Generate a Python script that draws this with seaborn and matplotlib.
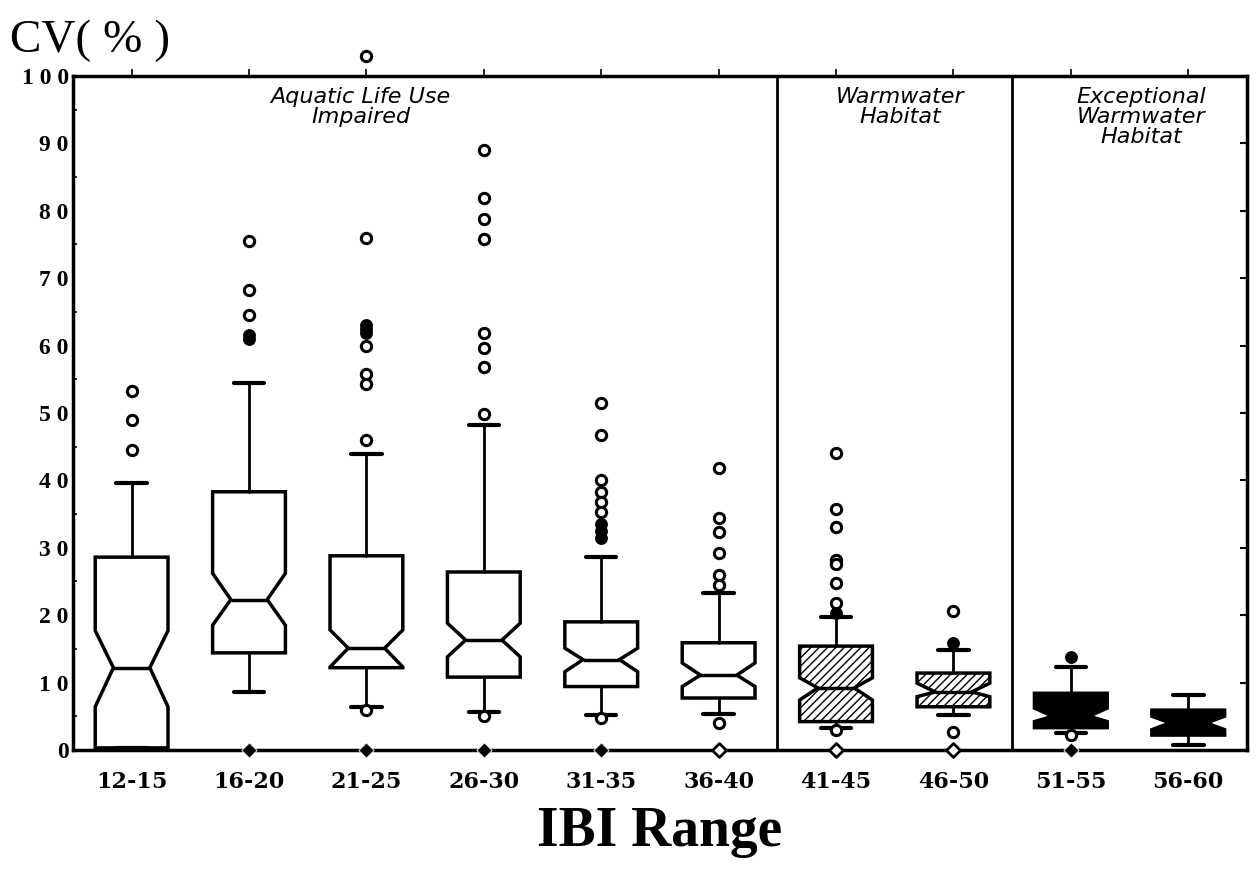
import numpy as np
import pandas as pd
import matplotlib
matplotlib.use("Agg")
import matplotlib.pyplot as plt
import seaborn as sns

# IBI ranges and box summary
groups = ['12-15', '16-20', '21-25', '26-30', '31-35', '36-40', '41-45', '46-50', '51-55', '56-60']
q1 = [0.3, 14.4, 12.2, 10.8, 9.4, 7.7, 4.2, 6.4, 3.3, 2.2]
med = [12.2, 22.3, 15.1, 16.3, 13.4, 11.1, 9.2, 8.6, 5.0, 4.0]
q3 = [28.6, 38.3, 28.8, 26.4, 19.0, 15.9, 15.4, 11.4, 8.4, 5.9]
notch_lo = [6.4, 18.5, 12.3, 13.8, 11.6, 9.4, 7.4, 7.9, 4.2, 3.0]
notch_hi = [17.7, 26.2, 17.8, 18.8, 15.1, 12.9, 10.7, 9.9, 6.2, 5.0]
whisk_lo = [0.3, 8.6, 6.4, 5.6, 5.2, 5.3, 3.2, 5.2, 2.5, 0.8]
whisk_hi = [39.6, 54.5, 43.9, 48.2, 28.6, 23.3, 19.7, 14.8, 12.3, 8.2]

# outliers (open circles) and the filled ones
out_open = {
    '12-15': [53.3, 49.0, 44.5],
    '16-20': [75.5, 68.3, 64.5],
    '21-25': [103.0, 76.0, 60.0, 55.8, 54.3, 46.0, 5.9],
    '26-30': [89.0, 81.9, 78.8, 75.8, 61.9, 59.6, 56.8, 49.9, 5.1],
    '31-35': [51.5, 46.7, 40.0, 38.3, 36.8, 35.3, 4.7],
    '36-40': [41.8, 34.4, 32.3, 29.2, 26.0, 24.5, 4.0],
    '41-45': [44.0, 35.8, 33.1, 28.2, 27.6, 24.8, 21.8, 3.0],
    '46-50': [20.6, 2.7],
    '51-55': [2.2],
    '56-60': [],
}
out_filled = {
    '16-20': [61.5, 61.0],
    '21-25': [63.0, 62.5, 61.8],
    '31-35': [33.5, 32.5, 31.5],
    '41-45': [20.3],
    '46-50': [15.9],
    '51-55': [13.8],
}
# diamonds sitting on the zero line
zero_filled = ['16-20', '21-25', '26-30', '31-35', '51-55']
zero_open = ['36-40', '41-45', '46-50']

zones = ['Aquatic Life Use\nImpaired', 'Warmwater\nHabitat', 'Exceptional\nWarmwater\nHabitat']

sns.set_style("white")
plt.rcParams['font.family'] = ['Liberation Serif', 'DejaVu Serif']
plt.rcParams['text.color'] = 'black'
plt.rcParams['xtick.color'] = 'black'
plt.rcParams['ytick.color'] = 'black'

fig = plt.figure(figsize=(12.57, 8.73), dpi=100)
ax = fig.add_axes([0.058, 0.141, 0.934, 0.772])

stats = []
for i, g in enumerate(groups):
    stats.append(dict(label=g, q1=q1[i], med=med[i], q3=q3[i], cilo=notch_lo[i], cihi=notch_hi[i],
                      whislo=whisk_lo[i], whishi=whisk_hi[i], fliers=[]))

bp = ax.bxp(stats, positions=range(len(groups)), widths=0.62, capwidths=0.26, shownotches=True,
            showfliers=False, patch_artist=True,
            boxprops=dict(linewidth=2.5, edgecolor='black', facecolor='white'),
            medianprops=dict(linewidth=2.5, color='black'),
            whiskerprops=dict(linewidth=2, color='black'),
            capprops=dict(linewidth=3, color='black'))
for i, b in enumerate(bp['boxes']):
    if i in (6, 7):
        b.set_hatch('////')
    elif i >= 8:
        b.set_facecolor('black')

# outliers
rows = [(groups.index(g), v) for g, vals in out_open.items() for v in vals]
df_open = pd.DataFrame(rows, columns=['pos', 'cv'])
rows = [(groups.index(g), v) for g, vals in out_filled.items() for v in vals]
df_fill = pd.DataFrame(rows, columns=['pos', 'cv'])
sns.scatterplot(data=df_open, x='pos', y='cv', ax=ax, marker='o', s=55,
                facecolor='white', edgecolor='black', linewidth=2.2, zorder=5)
ax.collections[-1].set_clip_on(False)
sns.scatterplot(data=df_fill, x='pos', y='cv', ax=ax, marker='o', s=60,
                color='black', edgecolor='black', linewidth=1.5, zorder=5)

dz_f = pd.DataFrame({'pos': [groups.index(g) for g in zero_filled], 'cv': 0.0})
dz_o = pd.DataFrame({'pos': [groups.index(g) for g in zero_open], 'cv': 0.0})
sns.scatterplot(data=dz_f, x='pos', y='cv', ax=ax, marker='D', s=60, color='black', zorder=6)
ax.collections[-1].set_clip_on(False)
sns.scatterplot(data=dz_o, x='pos', y='cv', ax=ax, marker='D', s=50,
                facecolor='white', edgecolor='black', linewidth=2, zorder=6)
ax.collections[-1].set_clip_on(False)

# zone separators and labels
ax.axvline(5.5, color='black', lw=2)
ax.axvline(7.5, color='black', lw=2)
for xx, txt in zip([1.95, 6.55, 8.6], zones):
    ax.text(xx, 98.3, txt, ha='center', va='top', style='italic', fontsize=16,
            linespacing=1.0, family=['DejaVu Sans'])

ax.set_xlim(-0.5, 9.5)
ax.set_ylim(0, 100)
ax.set_xticks(range(len(groups)))
ax.set_xticklabels(groups, fontsize=16, fontweight='bold', family=['DejaVu Serif'])
yt = np.arange(0, 101, 10)
ax.set_yticks(yt)
ax.set_yticklabels([' '.join(str(v)) for v in yt], fontsize=17, fontweight='bold')
ax.set_yticks(np.arange(5, 100, 10), minor=True)
ax.tick_params(axis='y', which='major', direction='in', length=5, width=1.5, right=True, pad=3)
ax.tick_params(axis='y', which='minor', direction='in', length=3, width=1.2, left=True)
ax.tick_params(axis='x', which='major', bottom=False, top=True, direction='out', length=5,
               width=1.2, pad=10)
for s in ax.spines.values():
    s.set_visible(True)
    s.set_linewidth(2.5)
    s.set_color('black')

ax.set_xlabel('')
ax.set_ylabel('')
fig.text(0.008, 0.978, 'CV( % )', fontsize=34, ha='left', va='top')
fig.text(0.525, 0.047, 'IBI Range', fontsize=40, fontweight='bold', ha='center', va='center')

fig.savefig('out.png', dpi=100)
